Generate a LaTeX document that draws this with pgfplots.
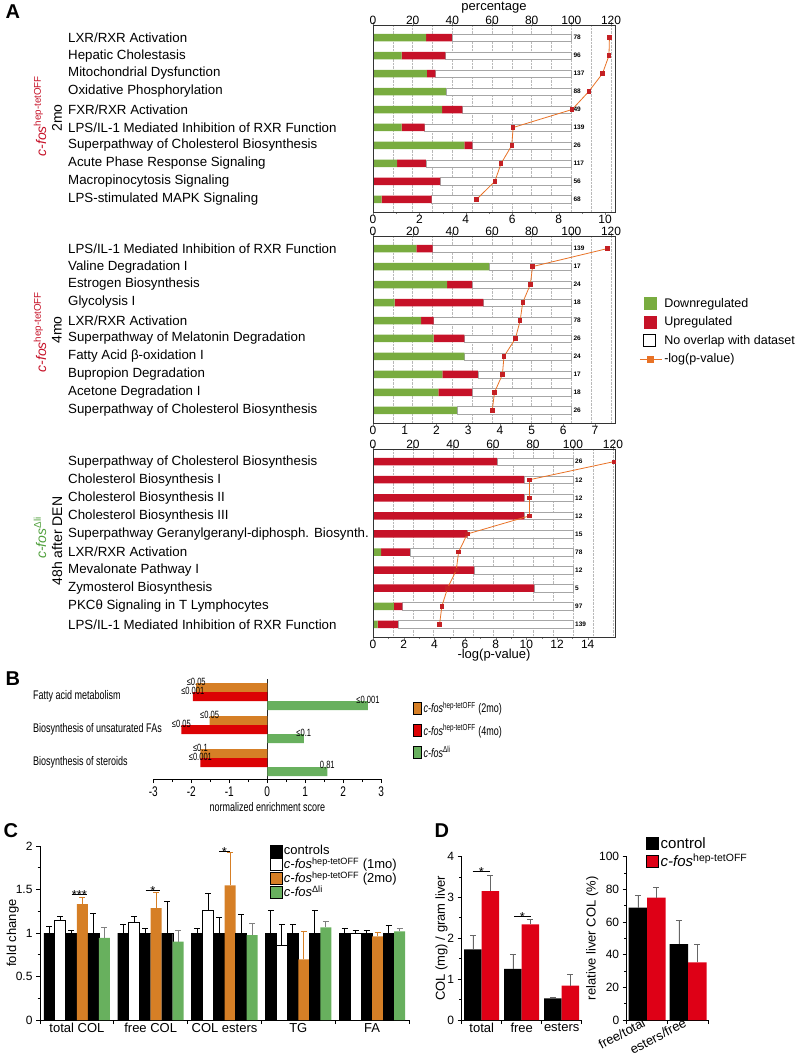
\documentclass[border=0pt]{standalone}
\usepackage{pgfplots}
\pgfplotsset{compat=1.18}
\usepackage{fontspec}
\setmainfont{Liberation Sans}
\newfontfamily\narrowfont[FakeStretch=0.72]{Liberation Sans}

\definecolor{agreen}{RGB}{121,172,64}
\definecolor{ared}{RGB}{198,18,40}
\definecolor{aline}{RGB}{232,114,38}
\definecolor{amark}{RGB}{196,32,36}
\definecolor{borange}{RGB}{214,127,38}
\definecolor{bred}{RGB}{220,2,4}
\definecolor{bgreen}{RGB}{104,176,94}
\definecolor{dred}{RGB}{222,0,22}
\definecolor{lgreen}{RGB}{80,160,60}

\newcommand{\cfos}[1]{\textit{c-fos}\textsuperscript{#1}}
\newcommand{\fs}[1]{\fontsize{#1}{#1}\selectfont}

\pgfplotsset{
  every axis/.append style={scale only axis, /pgf/number format/assume math mode=true,
    tick label style={font=\fs{12}}, label style={font=\fs{13}},
    axis line style={black!80}},
  sq/.style={legend image code/.code={\draw[##1] (0pt,-6pt) rectangle (12pt,6pt);}},
  sqb/.style={legend image code/.code={\draw[##1] (0pt,-6pt) rectangle (8pt,6pt);}},
  lineleg/.style={legend image code/.code={\draw[##1, mark repeat=2, mark phase=2] plot coordinates {(-4pt,0pt) (7pt,0pt) (18pt,0pt)};}},
  barax/.style={xbar stacked, bar width=7.5pt, width=242pt, anchor=north west,
    xmin=0, xmax=122, y dir=reverse, ymin=0.3, ymax=10.7,
    axis x line*=top, axis y line*=left,
    xtick={0,20,...,120}, minor x tick num=1,
    xmajorgrids, xminorgrids, grid style={densely dotted, gray!55},
    xticklabel style={yshift=-6pt},
    ytick={1,...,10}, ytick style={draw=none},
    yticklabel style={font=\fs{13.3}, anchor=west, xshift=-302pt, inner sep=0pt},
    tick align=outside, major tick length=3pt, minor tick length=0pt},
  lineax/.style={width=242pt, anchor=north west, xmin=0, y dir=reverse, ymin=0.3, ymax=10.7,
    ytick=\empty, xtick pos=left, xticklabel pos=left, tick align=outside,
    xticklabel style={yshift=3.5pt},
    major tick length=3pt, minor tick length=2pt},
  pline/.style={aline, line width=0.8pt, mark=square*, mark size=1.7pt,
    mark options={fill=amark, draw=amark}},
  cnt/.style={draw=none, forget plot, nodes near coords, point meta=explicit symbolic,
    every node near coord/.style={anchor=west, font=\bfseries\fs{6.5}, inner sep=2pt, text=black}},
  eb/.style={error bars/.cd, y dir=plus, y explicit,
    error bar style={#1, line width=0.9pt},
    error mark options={rotate=90, #1, mark size=3pt, line width=0.9pt}},
  colax/.style={ybar, anchor=south west, ymin=0,
    axis x line*=bottom, axis y line*=left, axis line style={black, line width=1pt},
    tick style={black, line width=1pt}, tick align=outside,
    major tick length=4pt, minor tick length=2.5pt, xticklabels={},
    extra x tick style={major tick length=0pt, tick label style={font=\fs{13}}}},
}

\begin{document}
\begin{tikzpicture}
\path[use as bounding box] (0,0) rectangle (798pt,-1057pt);

% ---------------- A, 2mo
\begin{axis}[barax, at={(373pt,-25pt)}, height=187pt, xlabel={percentage},
  xlabel style={at={(axis description cs:0.5,1)}, anchor=center, yshift=17pt},
  yticklabels={LXR/RXR Activation, Hepatic Cholestasis, Mitochondrial Dysfunction,
    Oxidative Phosphorylation, FXR/RXR Activation, LPS/IL-1 Mediated Inhibition of RXR Function,
    Superpathway of Cholesterol Biosynthesis, Acute Phase Response Signaling,
    Macropinocytosis Signaling, LPS-stimulated MAPK Signaling}]
\addplot[fill=agreen, draw=none] coordinates {(26.8,1) (14.4,2) (27.1,3) (36.7,4) (34.8,5) (14.4,6) (46.1,7) (12.1,8) (0,9) (4.4,10)};
\addplot[fill=ared, draw=none] coordinates {(12.9,1) (22.1,2) (4.4,3) (0,4) (10.3,5) (11.6,6) (4.0,7) (14.5,8) (33.8,9) (25.1,10)};
\addplot[fill=white, draw=gray!70] coordinates {(60.3,1) (63.5,2) (68.5,3) (63.3,4) (54.9,5) (74.0,6) (49.9,7) (73.4,8) (66.2,9) (70.5,10)};
\end{axis}
\begin{axis}[lineax, at={(373pt,-25pt)}, height=187pt, xmax=10.43, xtick={0,2,...,10}, minor x tick num=1]
\addplot[cnt] coordinates {(8.549,1) [78] (8.549,2) [96] (8.549,3) [137] (8.549,4) [88] (8.549,5) [49] (8.549,6) [139] (8.549,7) [26] (8.549,8) [117] (8.549,9) [56] (8.549,10) [68]};
\addplot[pline] coordinates {(10.19,1) (10.17,2) (9.89,3) (9.30,4) (8.58,5) (6.04,6) (5.98,7) (5.52,8) (5.25,9) (4.46,10)};
\end{axis}

% ---------------- A, 4mo
\begin{axis}[barax, at={(373pt,-236pt)}, height=187pt,
  yticklabels={LPS/IL-1 Mediated Inhibition of RXR Function, Valine Degradation I,
    Estrogen Biosynthesis, Glycolysis I, LXR/RXR Activation, Superpathway of Melatonin Degradation,
    Fatty Acid β-oxidation I, Bupropion Degradation, Acetone Degradation I,
    Superpathway of Cholesterol Biosynthesis}]
\addplot[fill=agreen, draw=none] coordinates {(21.9,1) (58.6,2) (37.4,3) (10.9,4) (24.2,5) (30.5,6) (46.1,7) (35.0,8) (33.0,9) (42.3,10)};
\addplot[fill=ared, draw=none] coordinates {(8.1,1) (0,2) (12.6,3) (44.7,4) (6.3,5) (15.6,6) (0,7) (17.9,8) (17.0,9) (0,10)};
\addplot[fill=white, draw=gray!70] coordinates {(70.0,1) (41.4,2) (50.0,3) (44.4,4) (69.5,5) (53.9,6) (53.9,7) (47.1,8) (50.0,9) (57.7,10)};
\end{axis}
\begin{axis}[lineax, at={(373pt,-236pt)}, height=187pt, xmax=7.63, xtick={0,...,7},
  legend style={at={(1.087,0.69)}, anchor=north west, draw=none, fill=none,
    font=\fs{12.5}, row sep=4pt}, legend cell align=left]
\addlegendimage{sq, fill=agreen, draw=agreen}
\addlegendentry{Downregulated}
\addlegendimage{sq, fill=ared, draw=ared}
\addlegendentry{Upregulated}
\addlegendimage{sq, fill=white, draw=black, line width=1.2pt}
\addlegendentry{No overlap with dataset}
\addlegendimage{lineleg, aline, line width=1pt, mark=square*, mark size=3pt, mark options={fill=aline, draw=aline}}
\addlegendentry{-log(p-value)}
\addplot[cnt] coordinates {(6.254,1) [139] (6.254,2) [17] (6.254,3) [24] (6.254,4) [18] (6.254,5) [78] (6.254,6) [26] (6.254,7) [24] (6.254,8) [17] (6.254,9) [18] (6.254,10) [26]};
\addplot[pline, forget plot] coordinates {(7.39,1) (5.03,2) (4.96,3) (4.72,4) (4.64,5) (4.49,6) (4.13,7) (4.08,8) (3.83,9) (3.76,10)};
\end{axis}

% ---------------- A, 48h after DEN
\begin{axis}[barax, at={(373pt,-449pt)}, height=188pt, xmax=121,
  yticklabels={Superpathway of Cholesterol Biosynthesis, Cholesterol Biosynthesis I,
    Cholesterol Biosynthesis II, Cholesterol Biosynthesis III,
    Superpathway Geranylgeranyl-diphosph. Biosynth., LXR/RXR Activation,
    Mevalonate Pathway I, Zymosterol Biosynthesis, PKCθ Signaling in T Lymphocytes,
    LPS/IL-1 Mediated Inhibition of RXR Function}]
\addplot[fill=agreen, draw=none] coordinates {(0,1) (0,2) (0,3) (0,4) (0,5) (4.0,6) (0,7) (0,8) (10.4,9) (2.3,10)};
\addplot[fill=ared, draw=none] coordinates {(62.1,1) (75.5,2) (75.5,3) (75.5,4) (47.2,5) (14.4,6) (50.5,7) (80.6,8) (4.3,9) (10.1,10)};
\addplot[fill=white, draw=gray!70] coordinates {(37.9,1) (24.5,2) (24.5,3) (24.5,4) (52.8,5) (81.6,6) (49.5,7) (19.4,8) (85.3,9) (87.6,10)};
\end{axis}
\begin{axis}[lineax, at={(373pt,-449pt)}, height=188pt, xmax=15.78, xtick={0,2,...,14},
  minor x tick num=1, xlabel={-log(p-value)}, xlabel style={yshift=6pt}]
\addplot[cnt] coordinates {(13.04,1) [26] (13.04,2) [12] (13.04,3) [12] (13.04,4) [12] (13.04,5) [15] (13.04,6) [78] (13.04,7) [12] (13.04,8) [5] (13.04,9) [97] (13.04,10) [139]};
\addplot[pline] coordinates {(15.7,1) (10.2,2) (10.2,3) (10.2,4) (6.15,5) (5.58,6) (5.43,7) (4.86,8) (4.49,9) (4.34,10)};
\end{axis}

\node[anchor=north west, font=\bfseries\fs{20}] at (2pt,-1pt) {A};
\node[rotate=90, text=ared, font=\fs{14}] at (40pt,-116pt) {\cfos{hep-tetOFF}};
\node[rotate=90, font=\fs{14}] at (57pt,-118pt) {2mo};
\node[rotate=90, text=ared, font=\fs{14}] at (40pt,-332pt) {\cfos{hep-tetOFF}};
\node[rotate=90, font=\fs{14}] at (57pt,-330pt) {4mo};
\node[rotate=90, text=lgreen, font=\fs{14}] at (40pt,-538pt) {\cfos{Δli}};
\node[rotate=90, font=\fs{14}] at (57pt,-541pt) {48h after DEN};

% ---------------- B
\begin{axis}[at={(153.3pt,-679pt)}, anchor=north west, width=228pt, height=100pt,
  xbar, bar width=9pt, xmin=-3, xmax=3, ymin=0.5, ymax=3.53,
  axis x line*=bottom, axis y line*=left, y axis line style={draw=none},
  x axis line style={black, line width=0.9pt},
  tick label style={font=\narrowfont\fs{14}}, label style={font=\narrowfont\fs{12.5}},
  xtick={-3,...,3}, minor x tick num=1, tick align=outside,
  major tick length=4pt, minor tick length=3pt, tick style={black, line width=0.9pt},
  ytick={1,2,3}, ytick style={draw=none},
  yticklabels={Biosynthesis of steroids, Biosynthesis of unsaturated FAs, Fatty acid metabolism},
  yticklabel style={anchor=west, xshift=-116.3pt, inner sep=0pt, font=\narrowfont\fs{12.5}},
  extra x ticks={0}, extra x tick labels={},
  extra x tick style={grid=major, major grid style={black!85, line width=0.9pt}, major tick length=0pt},
  xlabel={normalized enrichment score}, xlabel style={yshift=5pt},
  nodes near coords, point meta=explicit symbolic, nodes near coords align=horizontal,
  every node near coord/.append style={font=\narrowfont\fs{10.5}, inner sep=1.5pt},
  legend style={at={(1.126,0.81)}, anchor=north west, draw=none, fill=none,
    font=\narrowfont\fs{12.5}, row sep=6pt}, legend cell align=left]
\addplot[fill=borange, draw=none, bar shift=9pt, sqb] coordinates {(-1.87,3) [≤0.05] (-1.52,2) [≤0.05] (-1.76,1) [≤0.1]};
\addplot[fill=bred, draw=none, bar shift=0pt, sqb] coordinates {(-1.96,3) [≤0.001] (-2.26,2) [≤0.05] (-1.76,1) [≤0.001]};
\addplot[fill=bgreen, draw=none, bar shift=-9pt, sqb] coordinates {(2.65,3) [≤0.001] (0.96,2) [≤0.1] (1.58,1) [{0,81}]};
\addlegendentry{\cfos{hep-tetOFF} (2mo)}
\addlegendentry{\cfos{hep-tetOFF} (4mo)}
\addlegendentry{\cfos{Δli}}
\end{axis}
\node[anchor=north west, font=\bfseries\fs{20}] at (2pt,-668pt) {B};

% ---------------- C
\begin{axis}[colax, at={(40pt,-1020pt)}, width=369pt, height=174pt,
  bar width=11pt, xmin=-0.5, xmax=4.5, ymax=2,
  xtick={-0.5,0.5,1.5,2.5,3.5,4.5},
  extra x ticks={0,...,4}, extra x tick labels={total COL, free COL, COL esters, TG, FA},
  ytick={0,0.5,...,2}, minor y tick num=1, ylabel={fold change}, ylabel shift=-10pt,
  legend style={at={(0.623,1.01)}, anchor=north west, draw=none, fill=none,
    font=\fs{13}, row sep=-0.5pt, inner sep=0pt, nodes={inner sep=1pt}}, legend cell align=left]
\addplot[fill=black, draw=black, bar shift=-27.5pt, sq, eb=black] coordinates {(0,1) +- (0,0.07) (1,1) +- (0,0.10) (2,1) +- (0,0.05) (3,1) +- (0,0.26) (4,1) +- (0,0.05)};
\addplot[fill=white, draw=black, line width=0.9pt, bar shift=-16.5pt, sq, eb=black] coordinates {(0,1.14) +- (0,0.05) (1,1.126) +- (0,0.06) (2,1.26) +- (0,0.20) (3,0.862) +- (0,0.24) (4,0.992) +- (0,0.035)};
\addplot[fill=black, draw=black, bar shift=-5.5pt, forget plot, eb=black] coordinates {(0,1) +- (0,0.03) (1,1) +- (0,0.05) (2,1) +- (0,0.18) (3,1) +- (0,0.10) (4,1) +- (0,0.03)};
\addplot[fill=borange, draw=none, bar shift=5.5pt, sq, eb=borange] coordinates {(0,1.333) +- (0,0.08) (1,1.287) +- (0,0.18) (2,1.548) +- (0,0.38) (3,0.697) +- (0,0.32) (4,0.962) +- (0,0.05)};
\addplot[fill=black, draw=black, bar shift=16.5pt, forget plot, eb=black] coordinates {(0,1) +- (0,0.23) (1,1) +- (0,0.36) (2,1) +- (0,0.21) (3,1) +- (0,0.26) (4,1) +- (0,0.09)};
\addplot[fill=bgreen, draw=none, bar shift=27.5pt, sq, eb=gray] coordinates {(0,0.943) +- (0,0.12) (1,0.90) +- (0,0.13) (2,0.977) +- (0,0.13) (3,1.065) +- (0,0.07) (4,1.02) +- (0,0.03)};
\addlegendentry{controls}
\addlegendentry{\cfos{hep-tetOFF} (1mo)}
\addlegendentry{\cfos{hep-tetOFF} (2mo)}
\addlegendentry{\cfos{Δli}}
\end{axis}
\node[anchor=north west, font=\bfseries\fs{20}] at (0pt,-820pt) {C};
\draw[line width=0.9pt] (71.7pt,-894pt) -- (87pt,-894pt);
\node[anchor=base, font=\fs{13}, inner sep=0pt] at (79.4pt,-899pt) {***};
\draw[line width=0.9pt] (145.7pt,-890pt) -- (160pt,-890pt);
\node[anchor=base, font=\fs{13}, inner sep=0pt] at (152.9pt,-895pt) {*};
\draw[line width=0.9pt] (219pt,-851.7pt) -- (230pt,-851.7pt);
\node[anchor=base, font=\fs{13}, inner sep=0pt] at (224.5pt,-856.7pt) {*};

% ---------------- D
\begin{axis}[colax, at={(461.7pt,-1020pt)}, width=120pt, height=163.3pt,
  bar width=17.5pt, xmin=-0.5, xmax=2.5, ymax=4,
  xtick={-0.5,0.5,1.5,2.5},
  extra x ticks={0,1,2}, extra x tick labels={total, free, esters},
  ytick={0,...,4}, minor y tick num=1, ylabel={COL (mg) / gram liver}, ylabel shift=-7pt]
\addplot[fill=black, draw=none, bar shift=-8.75pt, eb=gray!80!black] coordinates {(0,1.73) +- (0,0.33) (1,1.25) +- (0,0.35) (2,0.53) +- (0,0.03)};
\addplot[fill=dred, draw=none, bar shift=8.75pt, eb=gray!80!black] coordinates {(0,3.16) +- (0,0.38) (1,2.34) +- (0,0.12) (2,0.84) +- (0,0.28)};
\end{axis}
\draw[line width=0.9pt] (472.7pt,-871.7pt) -- (490pt,-871.7pt);
\node[anchor=base, font=\fs{13}, inner sep=0pt] at (481.3pt,-876.7pt) {*};
\draw[line width=0.9pt] (514pt,-916pt) -- (531pt,-916pt);
\node[anchor=base, font=\fs{13}, inner sep=0pt] at (522.5pt,-921pt) {*};

\begin{axis}[colax, at={(626.7pt,-1020pt)}, width=82pt, height=163.3pt,
  bar width=18.5pt, xmin=-0.5, xmax=1.5, ymax=100,
  xtick={-0.5,0.5,1.5},
  extra x ticks={0,1}, extra x tick labels={free/total, esters/free},
  extra x tick style={tick label style={rotate=28, anchor=east, font=\fs{13}}},
  ytick={0,20,...,100}, minor y tick num=1, ylabel={relative liver COL (\%)}, ylabel shift=-6pt,
  legend style={at={(0.2,1.145)}, anchor=north west, draw=none, fill=none,
    font=\fs{15}, row sep=0pt}, legend cell align=left]
\addplot[fill=black, draw=none, bar shift=-9.25pt, sq, eb=gray!80!black] coordinates {(0,68.8) +- (0,7.5) (1,46.5) +- (0,14.7)};
\addplot[fill=dred, draw=none, bar shift=9.25pt, sq, eb=gray!80!black] coordinates {(0,74.9) +- (0,6.3) (1,35.3) +- (0,11.2)};
\addlegendentry{control}
\addlegendentry{\cfos{hep-tetOFF}}
\end{axis}
\node[anchor=north west, font=\bfseries\fs{20}] at (431pt,-820pt) {D};
\end{tikzpicture}
\end{document}
